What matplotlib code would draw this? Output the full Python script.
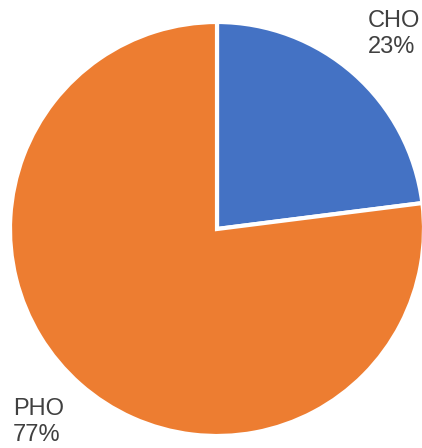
import matplotlib
matplotlib.use("Agg")
import matplotlib.pyplot as plt

labels = ["CHO", "PHO"]
shares = [23, 77]
colors = ["#4472C4", "#ED7D31"]

plt.rcParams['font.family'] = ['Liberation Sans', 'DejaVu Sans']

fig = plt.figure(figsize=(4.22, 4.48), dpi=100)
# pie centre ~(217, 229) px, radius ~207 px
r = 207
cx, cy = 217, 229
ax = fig.add_axes([(cx - r) / 422, (448 - cy - r) / 448, 2 * r / 422, 2 * r / 448])

ax.pie(shares, colors=colors, startangle=90, counterclock=False,
       wedgeprops=dict(edgecolor="white", linewidth=3))
ax.set_aspect("equal")
ax.set_xlim(-1, 1)
ax.set_ylim(-1, 1)

# labels sit outside the pie
txt_kw = dict(fontsize=17, color="#404040", ha="left", va="top", linespacing=1.25)
fig.text(368 / 422, 1 - 10 / 448, f"{labels[0]}\n{shares[0]}%", **txt_kw)
fig.text(13 / 422, 1 - 398 / 448, f"{labels[1]}\n{shares[1]}%", **txt_kw)

fig.savefig("out.png", dpi=100)
